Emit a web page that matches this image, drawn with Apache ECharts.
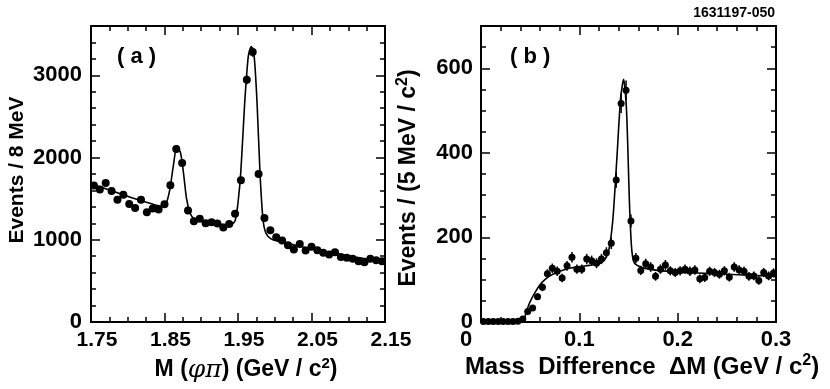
<!DOCTYPE html>
<html>
<head>
<meta charset="utf-8">
<script src="https://cdn.jsdelivr.net/npm/echarts@6/dist/echarts.min.js"></script>
<style>
  html, body { margin: 0; padding: 0; background: #fff; }
  #main { width: 830px; height: 389px; }
</style>
</head>
<body>
<div id="main"></div>
<script>
// panel (a): M(phi pi), 8 MeV bins from 1.75 to 2.15
const binStartA = 1.75
const binWidthA = 0.008
const countsA = [
  1659, 1610, 1691, 1594, 1488, 1549, 1436, 1387, 1488, 1334,
  1379, 1367, 1431, 1662, 2104, 1934, 1355, 1225, 1257, 1200,
  1213, 1197, 1148, 1193, 1318, 1723, 2947, 3283, 1801, 1266,
  1115, 1030, 990, 933, 881, 950, 869, 914, 873, 841,
  820, 848, 792, 780, 768, 739, 727, 768, 751, 739
]
// fit curve
const fitXA = [1.750, 1.770, 1.790, 1.810, 1.830, 1.845, 1.852, 1.857, 1.862, 1.867,
  1.872, 1.876, 1.880, 1.885, 1.890, 1.900, 1.920, 1.940, 1.946, 1.950,
  1.954, 1.959, 1.964, 1.968, 1.972, 1.976, 1.980, 1.984, 1.988, 1.995,
  2.005, 2.030, 2.060, 2.090, 2.120, 2.150]
const fitYA = [1680, 1620, 1560, 1500, 1445, 1410, 1440, 1600, 1900, 2145,
  2050, 1800, 1500, 1320, 1260, 1225, 1190, 1180, 1230, 1450,
  1850, 2650, 3230, 3350, 3230, 2650, 1800, 1250, 1080, 1010,
  980, 930, 870, 820, 775, 735]
const xTicksA = [1.75, 1.85, 1.95, 2.05, 2.15]
const yTicksA = [0, 1000, 2000, 3000]

// panel (b): mass difference, 5 MeV bins from 0 to 0.3
const binStartB = 0
const binWidthB = 0.005
const countsB = [
  1, 1, 1, 1, 1, 1, 1, 2, 7, 25,
  33, 60, 82, 114, 127, 120, 104, 133, 153, 125,
  125, 149, 145, 139, 149, 164, 186, 336, 517, 548,
  239, 151, 122, 138, 130, 108, 125, 135, 121, 117,
  121, 125, 120, 123, 102, 105, 120, 117, 113, 121,
  106, 130, 123, 120, 108, 109, 98, 117, 109, 116
]
const fitXB = [0, 0.040, 0.043, 0.047, 0.050, 0.055, 0.060, 0.065, 0.070, 0.080,
  0.090, 0.100, 0.110, 0.120, 0.126, 0.130, 0.134, 0.138, 0.142, 0.145,
  0.148, 0.151, 0.153, 0.155, 0.158, 0.165, 0.180, 0.200, 0.220, 0.250, 0.300]
const fitYB = [0, 0, 2, 30, 48, 70, 88, 100, 109, 120,
  127, 131, 134, 138, 148, 170, 240, 380, 530, 574,
  500, 280, 180, 145, 135, 128, 122, 118, 116, 113, 108]
const xTicksB = [0, 0.1, 0.2, 0.3]
const yTicksB = [0, 200, 400, 600]

const FONT = '"Liberation Sans", Arial, sans-serif'

function steps(a, b, s) {
  let out = []
  let n = Math.round((b - a) / s)
  for (let i = 0; i <= n; i++) out.push(+(a + i * s).toFixed(4))
  return out
}

function points(start, width, counts) {
  return counts.map((c, i) => [+(start + width * (i + 0.5)).toFixed(4), c, Math.sqrt(c)])
}

// one axis: main (labels + long ticks) or minor/mirror (ticks only)
function axis(grid, pos, min, max, ticks, len, label) {
  return {
    type: 'value', gridIndex: grid, position: pos, min: min, max: max,
    axisLine: { show: true, onZero: false, lineStyle: { color: '#000', width: 2 } },
    splitLine: { show: false },
    axisTick: { show: true, inside: true, length: len, customValues: ticks,
      lineStyle: { color: '#000', width: 1.5 } },
    axisLabel: label ? Object.assign({ show: true, customValues: ticks, color: '#000',
      fontWeight: 'bold', fontFamily: FONT }, label) : { show: false }
  }
}

function errorBars(xi, yi, data) {
  return {
    type: 'custom', xAxisIndex: xi, yAxisIndex: yi, z: 3,
    renderItem: (params, api) => {
      const x = api.value(0), y = api.value(1), e = api.value(2)
      const p1 = api.coord([x, y + e])
      const p2 = api.coord([x, Math.max(0, y - e)])
      return { type: 'line', shape: { x1: p1[0], y1: p1[1], x2: p2[0], y2: p2[1] },
        style: { stroke: '#000', lineWidth: 1.5 } }
    },
    encode: { x: 0, y: 1 },
    data: data
  }
}

const ptsA = points(binStartA, binWidthA, countsA)
const ptsB = points(binStartB, binWidthB, countsB)

var myChart = echarts.init(document.getElementById('main'))

const sup = { fontSize: 15, fontWeight: 'bold', fontFamily: FONT, padding: [0, 0, 12, 0] }
const greek = { fontSize: 25, fontStyle: 'italic', fontFamily: '"DejaVu Serif", serif' }

var option = {
  animation: false,
  backgroundColor: '#fff',
  grid: [
    { left: 91, top: 26, width: 294, height: 296 },
    { left: 481, top: 26, width: 295, height: 296 }
  ],
  xAxis: [
    axis(0, 'bottom', 1.75, 2.15, xTicksA, 9, { fontSize: 21, margin: 8, padding: [0, 0, 0, 12],
      formatter: v => v.toFixed(2) }),
    axis(0, 'bottom', 1.75, 2.15, steps(1.75, 2.15, 0.025), 5),
    axis(0, 'top', 1.75, 2.15, xTicksA, 9),
    axis(0, 'top', 1.75, 2.15, steps(1.75, 2.15, 0.025), 5),
    axis(1, 'bottom', 0, 0.3, xTicksB, 9, { fontSize: 22, margin: 7,
      formatter: v => v === 0 ? '{z|0}' : v.toFixed(1),
      rich: { z: { fontSize: 22, fontWeight: 'bold', fontFamily: FONT, color: '#000', padding: [0, 30, 0, 0] } } }),
    axis(1, 'bottom', 0, 0.3, steps(0, 0.3, 0.02), 5),
    axis(1, 'top', 0, 0.3, xTicksB, 9),
    axis(1, 'top', 0, 0.3, steps(0, 0.3, 0.02), 5)
  ],
  yAxis: [
    axis(0, 'left', 0, 3600, yTicksA, 9, { fontSize: 22, margin: 9, formatter: v => String(v) }),
    axis(0, 'left', 0, 3600, steps(0, 3600, 200), 5),
    axis(0, 'right', 0, 3600, yTicksA, 9),
    axis(0, 'right', 0, 3600, steps(0, 3600, 200), 5),
    axis(1, 'left', 0, 700, yTicksB, 9, { fontSize: 22, margin: 8, formatter: v => String(v) }),
    axis(1, 'left', 0, 700, steps(0, 700, 50), 5),
    axis(1, 'right', 0, 700, yTicksB, 9),
    axis(1, 'right', 0, 700, steps(0, 700, 50), 5)
  ],
  series: [
    {
      type: 'line', xAxisIndex: 0, yAxisIndex: 0, z: 2,
      data: fitXA.map((x, i) => [x, fitYA[i]]),
      showSymbol: false, smooth: 0.25,
      lineStyle: { color: '#000', width: 1.6 }
    },
    errorBars(0, 0, ptsA),
    {
      type: 'scatter', xAxisIndex: 0, yAxisIndex: 0, z: 4,
      data: ptsA.map(p => [p[0], p[1]]),
      symbol: 'circle', symbolSize: 8,
      itemStyle: { color: '#000', opacity: 1 }
    },
    {
      type: 'line', xAxisIndex: 4, yAxisIndex: 4, z: 2,
      data: fitXB.map((x, i) => [x, fitYB[i]]),
      showSymbol: false, smooth: 0.25,
      lineStyle: { color: '#000', width: 1.6 }
    },
    errorBars(4, 4, ptsB),
    {
      type: 'scatter', xAxisIndex: 4, yAxisIndex: 4, z: 4,
      data: ptsB.map(p => [p[0], p[1]]),
      symbol: 'circle', symbolSize: 7,
      itemStyle: { color: '#000', opacity: 1 }
    }
  ],
  graphic: [
    { type: 'text', x: 117, y: 57, style: { text: '( a )', font: 'bold 22px ' + FONT, fill: '#000', verticalAlign: 'middle' } },
    { type: 'text', x: 510, y: 57, style: { text: '( b )', font: 'bold 22px ' + FONT, fill: '#000', verticalAlign: 'middle' } },
    { type: 'text', x: 775, y: 13, style: { text: '1631197-050', font: 'bold 14px ' + FONT, fill: '#000', align: 'right', verticalAlign: 'middle' } },
    { type: 'text', x: 17, y: 170, rotation: Math.PI / 2,
      style: { text: 'Events / 8 MeV', font: 'bold 21px ' + FONT, fill: '#000', align: 'center', verticalAlign: 'middle' } },
    { type: 'text', x: 409, y: 178, rotation: Math.PI / 2,
      style: { text: 'Events / (5 MeV / c{s|2})', font: 'bold 23px ' + FONT, fill: '#000', align: 'center', verticalAlign: 'middle',
        rich: { s: Object.assign({}, sup, { fontSize: 16 }) } } },
    { type: 'text', x: 246, y: 370,
      style: { text: 'M ({g|φπ}) (GeV / c{s|2})', font: 'bold 23px ' + FONT, fill: '#000', align: 'center', verticalAlign: 'middle',
        rich: { g: greek, s: sup } } },
    { type: 'text', x: 642, y: 367,
      style: { text: 'Mass  Difference  ΔM (GeV / c{s|2})', font: 'bold 24px ' + FONT, fill: '#000', align: 'center', verticalAlign: 'middle',
        rich: { s: Object.assign({}, sup, { fontSize: 16 }) } } }
  ]
}

myChart.setOption(option)
</script>
</body>
</html>
